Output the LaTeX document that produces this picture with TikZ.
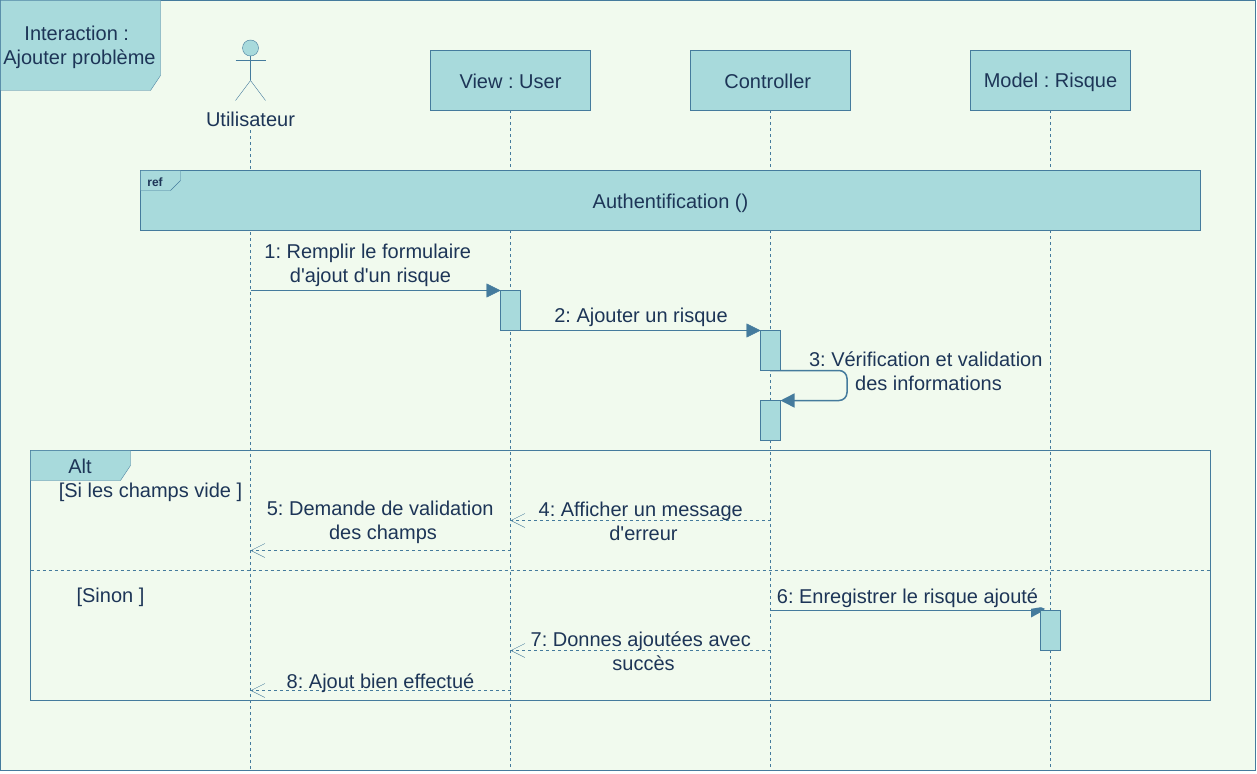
\documentclass[tikz,border=0pt]{standalone}
\usepackage{fontspec}
\setmainfont{Liberation Sans}[Ligatures=TeXOff]
\usetikzlibrary{arrows.meta,positioning}
\definecolor{bgc}{HTML}{F1FAEE}
\definecolor{fillc}{HTML}{A8DADC}
\definecolor{linec}{HTML}{457B9D}
\definecolor{textc}{HTML}{1D3557}
\newcommand\lnstrut{\rule[-2pt]{0pt}{20pt}}
\newcommand\trail{\hspace*{5.5pt}}
\tikzset{
  x=1pt,y=-1pt,
  line width=1.1pt,
  every node/.style={text=textc,font=\fontsize{20}{24}\selectfont\frenchspacing,inner sep=0pt,outer sep=0pt},
  obj/.style={draw=linec,fill=fillc,minimum width=160pt,minimum height=60pt,anchor=center,execute at begin node=\lnstrut},
  act/.style={draw=linec,fill=fillc,minimum width=20pt,minimum height=40pt,anchor=center},
  lbl/.style={align=center,anchor=center,execute at begin node=\lnstrut,execute at end node=\lnstrut},
  shapeline/.style={draw=linec,fill=fillc,line join=miter},
  life/.style={draw=linec,dash pattern=on 3pt off 3pt},
  plainmsg/.style={draw=linec,line width=1.5pt},
  syncmsg/.style={draw=linec,-{Triangle[length=14pt,width=14pt,fill=linec]}},
  retmsg/.style={draw=linec,dash pattern=on 3pt off 3pt,-{Straight Barb[length=14pt,width=14pt]}},
}
\begin{document}
\begin{tikzpicture}
\useasboundingbox (0,0) rectangle (1257,773);
\fill[white] (0,0) rectangle (1257,773);
\draw[linec,fill=bgc] (0.5,0.5) rectangle (1255,770.5);
% lifeline ends
\coordinate (uTop) at (250,130);
\coordinate (vTop) at (510,110);
\coordinate (cTop) at (770,110);
\coordinate (mTop) at (1050,110);
\coordinate (uBot) at (250,770);
\coordinate (vBot) at (510,770);
\coordinate (cBot) at (770,770);
\coordinate (mBot) at (1050,770);
% alt frame
\node[draw=linec,minimum width=1180pt,minimum height=250pt] (altf) at (620.5,575.5) {};
\draw[life] (altf.west |- 0,570.5) coordinate (altL) -- (altf.east |- 0,570.5) coordinate (altR);
% lifelines
\draw[life] (uTop) -- (uBot);
\draw[life] (vTop) -- (vBot);
\draw[life] (cTop) -- (cBot);
\draw[life] (mTop) -- (mBot);
% objects
\node[obj] (view) at (510.5,80.5) {View : User};
\node[obj] (ctrl) at (770.5,80.5) {Controller\trail};
\node[obj] (model) at (1050.5,80.5) {Model : Risque};
\node[lbl] (actorlbl) at (250.5,118) {Utilisateur};
% actor
\node[circle,draw=linec,fill=fillc,minimum size=16pt] (head) at (250.5,48) {};
\coordinate (hip) at (250.5,80.5);
\draw[linec] (head.south) -- (hip);
\draw[linec] (235.5,60.5) coordinate (armL) -- (265.5,60.5) coordinate (armR);
\draw[linec] (235.5,100.5) coordinate (legL) -- (hip) -- (265.5,100.5) coordinate (legR);
% title
\filldraw[shapeline] (0.5,0.5) -- (160.5,0.5) -- (160.5,75.5) -- (150.5,90.5) -- (0.5,90.5) -- cycle;
\node[lbl] (title) at (79.5,47) {Interaction :\trail\\Ajouter problème};
% ref
\node[obj,minimum width=1060pt] (ref) at (670.5,200.5) {};
\node[lbl] (reft) at (670.5,201.5) {Authentification ()};
\filldraw[shapeline] (140.5,170.5) -- (180.5,170.5) -- (180.5,180.5) -- (170.5,190.5) -- (140.5,190.5) -- cycle;
\node[font=\fontsize{12}{14}\bfseries\selectfont] (reflbl) at (155,182) {ref};
% alt tab
\filldraw[shapeline] (30.5,450.5) -- (130.5,450.5) -- (130.5,465.5) -- (120.5,480.5) -- (30.5,480.5) -- cycle;
\node[lbl] (altlbl) at (80,465) {Alt};
\node[lbl] (g1) at (150.5,490.5) {[Si les champs vide ]};
\node[lbl] (g2) at (110.5,595.5) {[Sinon ]};
% messages (activation boxes are named first so connectors can end on them)
\path node[act,draw=none,fill=none] (a1) at (510.5,310.5) {}
      node[act,draw=none,fill=none] (a2) at (770.5,350.5) {}
      node[act,draw=none,fill=none] (a3) at (770.5,420.5) {}
      node[act,draw=none,fill=none] (a4) at (1050.5,630.5) {};
\coordinate (m1s) at (250.5,290.5);
\draw[syncmsg] (m1s) -- (a1.north west);
\draw[syncmsg] (a1.south east) -- (a2.north west);
\coordinate (m3s) at (770,370.5);
\coordinate (m3a) at (847,370.5);
\coordinate (m3b) at (847,400.5);
\draw[syncmsg,line width=1.5pt,rounded corners=8pt] (m3s) -- (m3a) -- (m3b) -- (a3.north east);
\coordinate (m4s) at (770.5,520.5);
\coordinate (m4e) at (510.5,520.5);
\draw[retmsg] (m4s) -- (m4e);
\coordinate (m5s) at (510.5,550.5);
\coordinate (m5e) at (250.5,550.5);
\draw[retmsg] (m5s) -- (m5e);
\coordinate (m6s) at (770.5,610.5);
\coordinate (m6e) at (1040.5,610.5);
\draw[plainmsg] (m6s) -- (m6e);
\fill[linec] (1031,608.8) -- (1041,607.2) -- (1045,608.8) -- (1041,612) -- (1031,617.5) -- cycle;
\coordinate (m7s) at (770.5,650.5);
\coordinate (m7e) at (510.5,650.5);
\draw[retmsg] (m7s) -- (m7e);
\coordinate (m8s) at (510.5,690.5);
\coordinate (m8e) at (250.5,690.5);
\draw[retmsg] (m8s) -- (m8e);
% activations
\node[act] at (a1) {};
\node[act] at (a2) {};
\node[act] at (a3) {};
\node[act] at (a4) {};
% labels
\node[lbl] (l1) at (370.5,265) {1: Remplir le formulaire\trail\\d'ajout d'un risque};
\node[lbl] (l2) at (641,316) {2: Ajouter un risque};
\node[lbl] (l3) at (928.5,372) {3: Vérification et validation\trail\\des informations};
\node[lbl] (l4) at (643.5,522) {4: Afficher un message\trail\\d'erreur};
\node[lbl] (l5) at (383,522) {5: Demande de validation\trail\\des champs};
\node[lbl] (l6) at (907.5,596.5) {6: Enregistrer le risque ajouté};
\node[lbl] (l7) at (643.5,652) {7: Donnes ajoutées avec\trail\\succès};
\node[lbl] (l8) at (380.5,681.5) {8: Ajout bien effectué};
\end{tikzpicture}
\end{document}
